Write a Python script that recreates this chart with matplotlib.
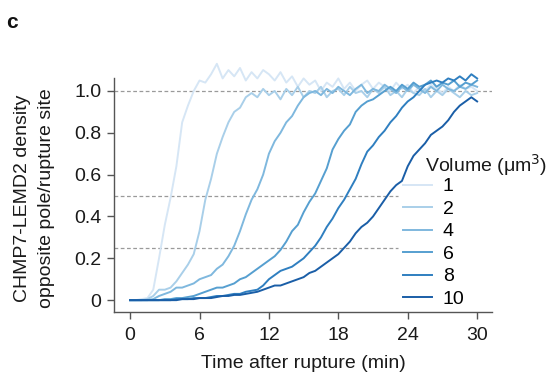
import numpy as np
import matplotlib
matplotlib.use("Agg")
import matplotlib.pyplot as plt

plt.rcParams['font.family'] = ['Liberation Sans', 'DejaVu Sans']

# time after rupture (min), sampled every 0.5 min
time_min = np.arange(0, 30.5, 0.5)

volumes = ["1", "2", "4", "6", "8", "10"]

vol1 = [0, 0, 0.005, 0.01, 0.05, 0.2, 0.36, 0.49, 0.64, 0.85, 0.93, 1.0, 1.05, 1.04, 1.08, 1.13,
        1.06, 1.1, 1.07, 1.11, 1.05, 1.09, 1.06, 1.1, 1.08, 1.05, 1.09, 1.04, 1.07, 1.02, 1.06,
        1.03, 1.05, 1.0, 1.04, 1.02, 1.06, 1.01, 1.04, 1.0, 1.03, 1.05, 1.01, 1.04, 1.02, 1.0,
        1.04, 1.01, 1.03, 0.99, 1.02, 1.0, 1.03, 1.01, 0.99, 1.02, 1.0, 1.03, 1.01, 1.02, 1.0]
vol2 = [0, 0, 0, 0.005, 0.02, 0.05, 0.05, 0.06, 0.09, 0.13, 0.17, 0.22, 0.33, 0.48, 0.58, 0.7,
        0.78, 0.85, 0.9, 0.92, 0.97, 0.99, 0.97, 1.01, 0.98, 1.0, 0.96, 1.01, 0.98, 1.02, 0.97,
        1.0, 0.99, 1.02, 0.97, 1.0, 1.01, 0.98, 1.02, 0.99, 1.0, 0.97, 1.01, 0.99, 1.02, 0.98,
        1.0, 0.97, 1.01, 0.99, 0.98, 1.01, 0.97, 1.0, 0.98, 1.01, 0.99, 0.97, 1.0, 0.98, 0.99]
vol4 = [0, 0, 0, 0, 0.005, 0.02, 0.03, 0.04, 0.06, 0.06, 0.07, 0.08, 0.1, 0.11, 0.12, 0.15,
        0.17, 0.21, 0.26, 0.33, 0.41, 0.48, 0.53, 0.6, 0.7, 0.76, 0.8, 0.85, 0.88, 0.93, 0.97,
        0.99, 1.0, 0.98, 1.01, 0.99, 1.02, 1.0, 0.98, 1.01, 1.03, 0.99, 1.01, 1.0, 1.03, 1.01,
        0.99, 1.02, 1.0, 1.03, 1.01, 0.99, 1.02, 1.0, 1.03, 1.01, 1.0, 1.02, 1.01, 1.03, 1.02]
vol6 = [0, 0, 0, 0, 0, 0, 0.005, 0.005, 0.01, 0.01, 0.015, 0.02, 0.03, 0.04, 0.05, 0.06,
        0.06, 0.07, 0.08, 0.1, 0.11, 0.13, 0.15, 0.17, 0.19, 0.21, 0.24, 0.28, 0.33, 0.36, 0.42,
        0.47, 0.51, 0.57, 0.63, 0.72, 0.77, 0.81, 0.84, 0.9, 0.93, 0.95, 0.96, 0.98, 1.0, 1.02,
        1.0, 1.03, 1.01, 1.04, 1.02, 1.03, 1.05, 1.02, 1.04, 1.03, 1.05, 1.02, 1.04, 1.03, 1.05]
vol8 = [0, 0, 0, 0, 0, 0, 0, 0, 0.005, 0.005, 0.005, 0.01, 0.01, 0.01, 0.015, 0.02,
        0.02, 0.025, 0.03, 0.03, 0.04, 0.045, 0.05, 0.07, 0.1, 0.12, 0.14, 0.15, 0.16, 0.18, 0.2,
        0.23, 0.26, 0.3, 0.35, 0.39, 0.44, 0.48, 0.53, 0.58, 0.65, 0.71, 0.74, 0.78, 0.81, 0.85,
        0.88, 0.92, 0.95, 0.97, 1.0, 1.03, 1.04, 1.05, 1.04, 1.06, 1.05, 1.07, 1.05, 1.08, 1.06]
vol10 = [0, 0, 0, 0, 0, 0, 0, 0, 0, 0.005, 0.005, 0.005, 0.01, 0.01, 0.01, 0.015,
         0.02, 0.02, 0.025, 0.025, 0.03, 0.035, 0.04, 0.05, 0.06, 0.07, 0.07, 0.08, 0.09, 0.1, 0.11,
         0.13, 0.14, 0.16, 0.18, 0.2, 0.22, 0.25, 0.28, 0.32, 0.35, 0.37, 0.4, 0.44, 0.48, 0.52,
         0.55, 0.57, 0.64, 0.69, 0.72, 0.75, 0.79, 0.81, 0.83, 0.86, 0.9, 0.93, 0.95, 0.97, 0.95]

series = [vol1, vol2, vol4, vol6, vol8, vol10]
colors = ["#d6e6f5", "#a9cfe9", "#7fb8de", "#569fd0", "#2f7fc0", "#1a5ea7"]

fig = plt.figure(figsize=(5.53, 3.76), dpi=100)
ax = fig.add_axes([0.206, 0.170, 0.684, 0.6715])

ax.set_xlim(-1.4, 31.3)
ax.set_ylim(-0.057, 1.15)

# guide lines
ax.plot([-1.4, 31.3], [1.0, 1.0], ls=(0, (3, 2)), color="#9a9a9a", lw=0.9, zorder=1)
for g in [0.5, 0.25]:
    ax.plot([-1.4, 23.2], [g, g], ls=(0, (3, 2)), color="#9a9a9a", lw=0.9, zorder=1)

lines = []
for vals, c, lab in zip(series, colors, volumes):
    ln, = ax.plot(time_min, vals, color=c, lw=1.4, label=lab, zorder=2, clip_on=False)
    lines.append(ln)

ax.spines['top'].set_visible(False)
ax.spines['right'].set_visible(False)
for s in ['left', 'bottom']:
    ax.spines[s].set_color("#555555")
    ax.spines[s].set_linewidth(1.0)
ax.spines['left'].set_bounds(-0.057, 1.062)

ax.set_xticks([0, 6, 12, 18, 24, 30])
ax.set_yticks([0, 0.2, 0.4, 0.6, 0.8, 1.0])
ax.set_yticklabels(["0", "0.2", "0.4", "0.6", "0.8", "1.0"])
ax.tick_params(axis='both', direction='out', length=5, width=1.0, color="#555555",
               labelsize=14, pad=4, labelcolor="#1a1a1a")
ax.tick_params(axis='x', pad=6)

ax.set_xlabel("Time after rupture (min)", fontsize=14, color="#1a1a1a", labelpad=8)
ax.set_ylabel("CHMP7-LEMD2 density\nopposite pole/rupture site", fontsize=14,
              color="#1a1a1a", linespacing=1.5, multialignment='center')
ax.yaxis.set_label_coords(-0.156, 0.45)

fig.text(0.768, 0.543, "Volume (\u03bcm$^3$)", fontsize=14, color="#1a1a1a",
         ha='left', va='baseline')
fig.legend(handles=lines, loc='upper left', bbox_to_anchor=(0.729, 0.527),
           bbox_transform=fig.transFigure, frameon=False, fontsize=14,
           handlelength=1.5, handletextpad=0.55, labelspacing=0.25,
           borderpad=0, borderaxespad=0)

fig.text(0.011, 0.94, "c", fontsize=15, fontweight='bold', color="#111111",
         ha='left', va='center')

fig.savefig("out.png", dpi=100)
